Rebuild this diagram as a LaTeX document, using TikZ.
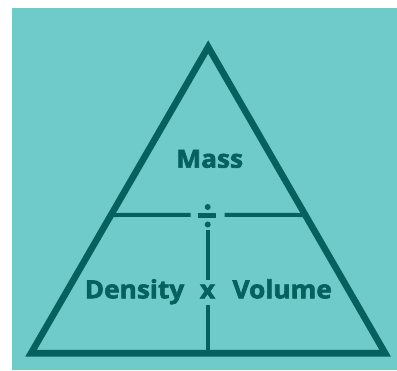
\documentclass[tikz,border=0pt]{standalone}
\usepackage{fontspec}
\setmainfont{Open Sans}
\newfontfamily\heavy{Open Sans}[UprightFont={* Bold},FakeBold=2.4,FakeStretch=1.05]
\definecolor{bg}{HTML}{6FCBCA}
\definecolor{dk}{HTML}{03615E}
\begin{document}
\begin{tikzpicture}[x=1pt,y=-1pt,
  edge/.style={draw=dk,line width=4pt},
  lbl/.style={text=dk,font=\heavy\fontsize{25}{28}\selectfont,inner sep=0pt,anchor=base}]
\useasboundingbox (0,0) rectangle (397,371);
\fill[white] (0,0) rectangle (397,371);
\fill[bg] (12,8) rectangle (397,370);
\coordinate (A) at (208.2,47);
\coordinate (BL) at (31,353.3);
\coordinate (BR) at (385.2,353.3);
\draw[draw=dk,line width=6.6pt,line join=miter] (A) -- (BL) -- (BR) -- cycle;
\coordinate (HL) at (100,215);
\coordinate (HR) at (320,215);
\coordinate (HLe) at (190.5,215);
\coordinate (HRs) at (224.5,215);
\draw[edge] (intersection cs:first line={(A)--(BL)},second line={(HL)--(HR)}) -- (HLe);
\draw[edge] (HRs) -- (intersection cs:first line={(A)--(BR)},second line={(HL)--(HR)});
\coordinate (DB1) at (197.5,216);
\coordinate (DB2) at (216,216);
\draw[draw=dk,line width=5pt] (DB1) -- (DB2);
\fill[dk] (207.7,207) circle (3pt);
\fill[dk] (207.7,224.5) circle (3pt);
\coordinate (V1) at (208,230);
\coordinate (V2) at (208,280);
\coordinate (V3) at (208,305);
\coordinate (V4) at (208,353.3);
\draw[edge] (V1) -- (V2);
\draw[edge] (V3) -- (V4);
\node[lbl] (mass) at (209.7,167.7) {Mass};
\node[lbl] (dens) at (134.5,298.3) {Density};
\node[lbl] (times) at (207.5,298.3) {x};
\node[lbl] (vol) at (282.2,298.3) {Volume};
\end{tikzpicture}
\end{document}
